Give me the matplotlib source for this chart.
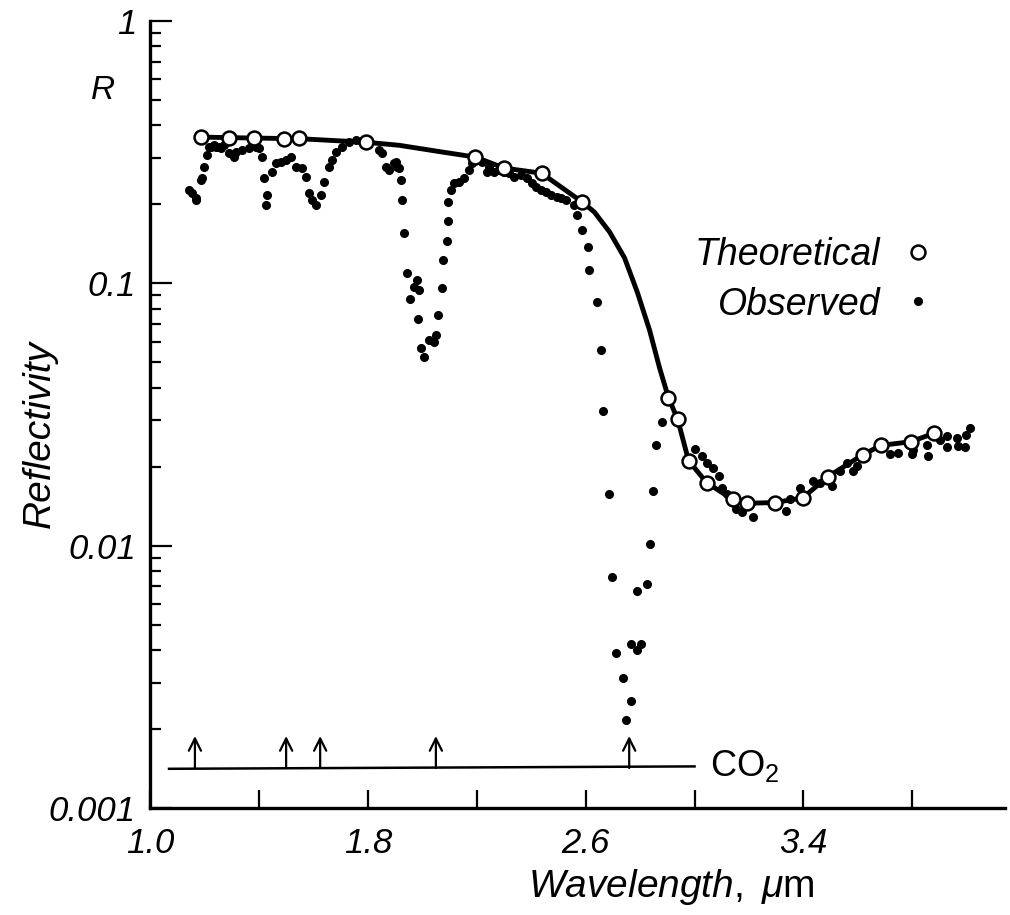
import matplotlib
matplotlib.use("Agg")
from matplotlib import pyplot as plt

plt.rcParams['font.family'] = ['Liberation Sans', 'DejaVu Sans']
plt.rcParams['mathtext.fontset'] = 'custom'
plt.rcParams['mathtext.rm'] = 'Liberation Sans'
plt.rcParams['mathtext.it'] = 'Liberation Sans:italic'

# theoretical points (open circles)
theory_x = [1.188, 1.290, 1.382, 1.493, 1.548, 1.794, 2.195, 2.301, 2.438, 2.588,
            2.904, 2.938, 2.978, 3.044, 3.140, 3.191, 3.294, 3.397, 3.489, 3.618,
            3.684, 3.794, 3.879]
theory_y = [0.361, 0.357, 0.357, 0.355, 0.357, 0.345, 0.303, 0.275, 0.263, 0.204,
            0.0367, 0.0303, 0.0211, 0.0174, 0.0150, 0.0145, 0.0146, 0.0152, 0.0183, 0.0222,
            0.0241, 0.0249, 0.0268]

# theoretical curve
curve_x = [1.188, 1.382, 1.548, 1.794, 1.915, 2.062, 2.195, 2.301, 2.438, 2.588,
           2.632, 2.688, 2.743, 2.790, 2.835, 2.871, 2.904, 2.938, 2.978, 3.044,
           3.140, 3.191, 3.294, 3.397, 3.489, 3.618, 3.684, 3.794, 3.879]
curve_y = [0.361, 0.358, 0.356, 0.345, 0.336, 0.318, 0.303, 0.275, 0.263, 0.204,
           0.187, 0.157, 0.125, 0.0924, 0.0662, 0.0478, 0.0367, 0.0303, 0.0211, 0.0174,
           0.0150, 0.0145, 0.0146, 0.0152, 0.0183, 0.0222, 0.0241, 0.0249, 0.0268]

# observed points (dots)
obs_x = [1.143, 1.154, 1.169, 1.169, 1.188, 1.191, 1.199, 1.210, 1.217, 1.224,
         1.235, 1.243, 1.254, 1.261, 1.272, 1.290, 1.309, 1.316, 1.338, 1.364,
         1.390, 1.401, 1.412, 1.419, 1.430, 1.426, 1.449, 1.463, 1.482, 1.500,
         1.518, 1.537, 1.559, 1.574, 1.585, 1.596, 1.610, 1.629, 1.640, 1.658,
         1.669, 1.684, 1.706, 1.732, 1.757,
         1.842, 1.853, 1.868, 1.879, 1.897, 1.904, 1.908, 1.915, 1.923, 1.926,
         1.934, 1.945, 1.982, 1.971, 1.989, 1.956, 1.985, 2.026, 2.044, 1.996,
         2.007, 2.051, 2.059, 2.074, 2.077, 2.092, 2.096, 2.096, 2.107, 2.118,
         2.136, 2.154, 2.173, 2.184, 2.202, 2.221, 2.239, 2.246, 2.265, 2.283,
         2.301, 2.320, 2.338, 2.364, 2.386, 2.404, 2.419, 2.437, 2.456, 2.474,
         2.493, 2.511, 2.529, 2.559, 2.570, 2.588, 2.607, 2.614, 2.640, 2.658,
         2.665, 2.684, 2.695, 2.713, 2.739, 2.750, 2.768, 2.768, 2.805, 2.790,
         2.790, 2.824, 2.835, 2.846, 2.860, 2.882,
         3.000, 3.026, 3.044, 3.066, 3.088, 3.099, 3.118, 3.154, 3.176, 3.213,
         3.335, 3.349, 3.386, 3.434, 3.460, 3.504, 3.533, 3.559, 3.581, 3.596,
         3.717, 3.746, 3.798, 3.801, 3.853, 3.857, 3.901, 3.926, 3.926, 3.963,
         3.967, 3.993, 3.996, 4.011]
obs_y = [0.2265, 0.2206, 0.2111, 0.2074, 0.2473, 0.2517, 0.2772, 0.3080, 0.3304, 0.3304,
         0.3363, 0.3304, 0.3304, 0.3275, 0.3363, 0.3135, 0.3027, 0.3162, 0.3218, 0.3275,
         0.3304, 0.3275, 0.3027, 0.2517, 0.2167, 0.1985, 0.2653, 0.2871, 0.2896, 0.2948,
         0.3027, 0.2772, 0.2748, 0.2539, 0.2206, 0.2074, 0.1985, 0.2167, 0.2430, 0.2772,
         0.2948, 0.3162, 0.3304, 0.3455, 0.3514,
         0.3218, 0.3135, 0.2772, 0.2700, 0.2871, 0.2896, 0.2772, 0.2748, 0.2473, 0.2074,
         0.1552, 0.1092, 0.1027, 0.0965, 0.0940, 0.0869, 0.0729, 0.0606, 0.0595, 0.0565,
         0.0522, 0.0633, 0.0755, 0.0957, 0.1224, 0.1446, 0.1724, 0.2038, 0.2265, 0.2409,
         0.2430, 0.2517, 0.2700, 0.2871, 0.2948, 0.2896, 0.2653, 0.2772, 0.2653, 0.2700,
         0.2653, 0.2630, 0.2539, 0.2584, 0.2517, 0.2409, 0.2325, 0.2265, 0.2225, 0.2167,
         0.2129, 0.2111, 0.2074, 0.1985, 0.1817, 0.1593, 0.1372, 0.1121, 0.0846, 0.0555,
         0.0325, 0.0158, 0.00762, 0.00391, 0.00313, 0.00217, 0.00256, 0.00423, 0.00423, 0.00401,
         0.00673, 0.00716, 0.01018, 0.0161, 0.0243, 0.0297,
         0.0234, 0.0220, 0.0207, 0.0197, 0.0185, 0.0166, 0.0158, 0.0138, 0.0134, 0.0129,
         0.0136, 0.0151, 0.0166, 0.0177, 0.0174, 0.0169, 0.0193, 0.0206, 0.0193, 0.0202,
         0.0224, 0.0226, 0.0224, 0.0231, 0.0241, 0.0220, 0.0252, 0.0261, 0.0237, 0.0258,
         0.0239, 0.0237, 0.0263, 0.0282]

# CO2 absorption band markers
co2_x = [1.165, 1.50, 1.625, 2.05, 2.76]
co2_line_x = [1.07, 3.0]
co2_line_y = [0.00141, 0.00144]
co2_base = 0.00142
co2_tip = 0.00188

xticks = [1.0, 1.4, 1.8, 2.2, 2.6, 3.0, 3.4, 3.8]
xticklabels = ['1.0', '', '1.8', '', '2.6', '', '3.4', '']
yticks = [0.001, 0.01, 0.1, 1]
yticklabels = ['0.001', '0.01', '0.1', '1']

fig = plt.figure(figsize=(10.1, 9.15), dpi=100)
ax = fig.add_axes([0.1485, 0.117, 0.8465, 0.86])

ax.plot(obs_x, obs_y, 'o', color='black', markersize=5.5, zorder=2, label='Observed')
ax.plot(curve_x, curve_y, '-', color='black', linewidth=3.5, zorder=3,
        solid_joinstyle='round')
ax.plot(theory_x, theory_y, 'o', markerfacecolor='white', markeredgecolor='black',
        markersize=10, markeredgewidth=1.8, linestyle='none', zorder=4, label='Theoretical')

ax.plot(co2_line_x, co2_line_y, '-', color='black', linewidth=1.8)
for x in co2_x:
    ax.annotate('', xy=(x, co2_tip), xytext=(x, co2_base),
                arrowprops=dict(arrowstyle='->', color='black', lw=1.6,
                                mutation_scale=22, shrinkA=0, shrinkB=0))
ax.text(3.055, 0.00145, 'CO$_2$', fontsize=26, va='center', ha='left')

ax.set_yscale('log')
ax.set_ylim(0.001, 1)
ax.set_xlim(1.0, 4.14)

ax.spines['top'].set_visible(False)
ax.spines['right'].set_visible(False)
ax.spines['left'].set_linewidth(2.4)
ax.spines['bottom'].set_linewidth(2.4)

ax.set_xticks(xticks)
ax.set_xticklabels(xticklabels, fontsize=25, style='italic')
ax.set_yticks(yticks)
ax.set_yticklabels(yticklabels, fontsize=25, style='italic')
ax.tick_params(axis='x', direction='in', length=13, width=1.6, pad=14)
ax.tick_params(axis='y', which='major', direction='in', length=16, width=1.6, pad=10)
ax.tick_params(axis='y', which='minor', direction='in', length=8, width=1.6)

ax.set_xlabel('$\\mathit{Wavelength,}\\ \\mu\\mathrm{m}$', fontsize=28)
ax.xaxis.set_label_coords(0.61, -0.075)
ax.set_ylabel('Reflectivity', fontsize=28, style='italic')
ax.yaxis.set_label_coords(-0.108, 0.475)

ax.text(-0.055, 0.912, 'R', transform=ax.transAxes, fontsize=24, style='italic',
        ha='center', va='center')

handles, labels = ax.get_legend_handles_labels()
leg = ax.legend(handles[::-1], labels[::-1], loc='upper right', bbox_to_anchor=(0.92, 0.725),
                frameon=False, markerfirst=False, prop={'style': 'italic', 'size': 27},
                handlelength=1.0, handletextpad=0.5, borderaxespad=0, borderpad=0, labelspacing=0.35)

fig.savefig('out.png', dpi=100)
